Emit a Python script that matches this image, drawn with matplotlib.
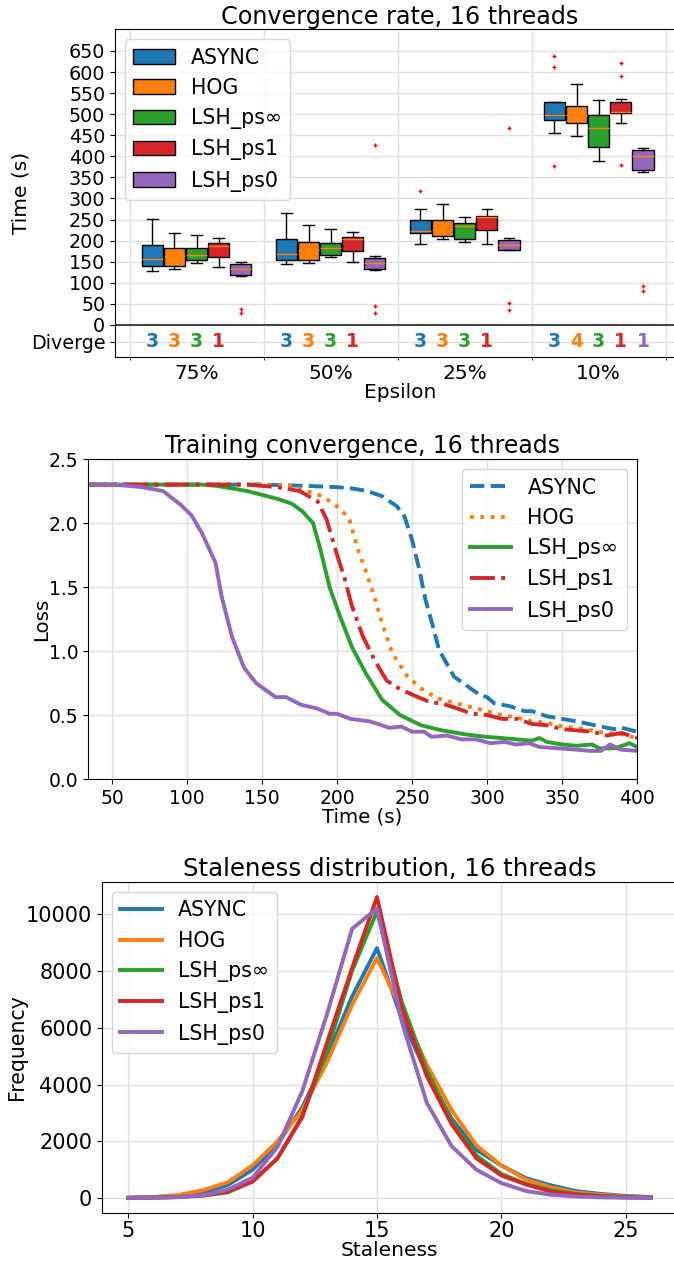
import matplotlib
matplotlib.use("Agg")
import matplotlib.pyplot as plt
from matplotlib.patches import Patch

plt.rcParams['font.family'] = ['DejaVu Sans']

# ---------------- data ----------------
methods = ["ASYNC", "HOG", "LSH_ps\u221e", "LSH_ps1", "LSH_ps0"]
colors = ["#1f77b4", "#ff7f0e", "#2ca02c", "#d62728", "#9467bd"]
epsilons = ["75%", "50%", "25%", "10%"]

# box statistics [method][epsilon]
box_med = [[156, 169, 224, 497],
           [163, 177, 228, 498],
           [167, 182, 234, 466],
           [188, 203, 257, 506],
           [132, 147, 190, 401]]
box_q1 = [[140, 154, 219, 485],
          [140, 154, 212, 479],
          [154, 165, 205, 423],
          [161, 175, 225, 502],
          [118, 132, 177, 367]]
box_q3 = [[190, 205, 250, 528],
          [182, 197, 250, 520],
          [182, 194, 241, 497],
          [195, 209, 259, 530],
          [144, 158, 201, 415]]
box_lo = [[128, 144, 191, 456],
          [132, 146, 203, 448],
          [148, 161, 197, 389],
          [137, 150, 193, 478],
          [116, 130, 177, 363]]
box_hi = [[251, 265, 276, 528],
          [219, 238, 288, 572],
          [214, 227, 255, 533],
          [206, 220, 276, 536],
          [149, 163, 207, 419]]
box_fliers = [[[], [], [317], [638, 613, 378]],
              [[], [], [], []],
              [[], [], [], []],
              [[], [], [], [622, 591, 380]],
              [[37, 28], [427, 45, 28], [468, 53, 36], [92, 81]]]
diverge = [[3, 3, 3, 3],
           [3, 3, 3, 4],
           [3, 3, 3, 3],
           [1, 1, 1, 1],
           [None, None, None, 1]]

# training convergence
async_t = [30, 100, 150, 180, 200, 210, 220, 230, 240, 245, 250, 255, 259, 264, 268, 278, 290, 295, 300, 305, 315, 325, 330, 340, 350, 360, 370, 380, 385, 390, 400]
async_loss = [2.3, 2.3, 2.3, 2.29, 2.28, 2.27, 2.25, 2.21, 2.13, 2.05, 1.87, 1.63, 1.40, 1.19, 1.01, 0.80, 0.70, 0.66, 0.64, 0.59, 0.57, 0.53, 0.53, 0.49, 0.47, 0.45, 0.425, 0.40, 0.39, 0.40, 0.37]
hog_t = [30, 150, 170, 180, 190, 200, 208, 214, 219, 225, 230, 237, 247, 257, 267, 280, 290, 300, 310, 320, 330, 340, 350, 360, 370, 380, 390, 400]
hog_loss = [2.3, 2.3, 2.29, 2.25, 2.21, 2.13, 2.04, 1.79, 1.63, 1.42, 1.22, 0.98, 0.80, 0.70, 0.63, 0.59, 0.56, 0.53, 0.50, 0.48, 0.45, 0.44, 0.41, 0.40, 0.38, 0.36, 0.35, 0.32]
ps1_t = [30, 140, 160, 175, 187, 193, 199, 205, 210, 217, 225, 233, 241, 250, 262, 270, 278, 290, 300, 310, 320, 330, 340, 350, 360, 370, 380, 390, 400]
ps1_loss = [2.3, 2.3, 2.28, 2.25, 2.17, 2.03, 1.79, 1.57, 1.35, 1.12, 0.93, 0.77, 0.71, 0.66, 0.60, 0.59, 0.56, 0.51, 0.50, 0.47, 0.47, 0.43, 0.42, 0.39, 0.38, 0.37, 0.34, 0.36, 0.32]
psinf_t = [30, 110, 120, 130, 140, 150, 160, 170, 177, 184, 189, 195, 202, 210, 219, 230, 242, 256, 270, 285, 299, 310, 320, 330, 335, 340, 350, 360, 370, 375, 385, 395, 400]
psinf_loss = [2.3, 2.3, 2.29, 2.27, 2.25, 2.22, 2.19, 2.15, 2.09, 2.0, 1.79, 1.50, 1.27, 1.03, 0.83, 0.62, 0.50, 0.42, 0.38, 0.35, 0.33, 0.32, 0.31, 0.30, 0.32, 0.29, 0.27, 0.26, 0.27, 0.24, 0.24, 0.28, 0.25]
ps0_t = [30, 50, 61, 70, 84, 96, 103, 110, 119, 123, 130, 138, 146, 159, 166, 176, 187, 195, 200, 209, 222, 235, 243, 250, 258, 263, 273, 283, 293, 302, 312, 319, 328, 335, 348, 359, 369, 376, 382, 389, 400]
ps0_loss = [2.3, 2.3, 2.29, 2.28, 2.25, 2.14, 2.06, 1.92, 1.69, 1.43, 1.11, 0.87, 0.75, 0.64, 0.64, 0.58, 0.55, 0.51, 0.51, 0.47, 0.45, 0.40, 0.41, 0.37, 0.37, 0.33, 0.34, 0.31, 0.31, 0.28, 0.29, 0.27, 0.28, 0.25, 0.24, 0.23, 0.22, 0.22, 0.27, 0.23, 0.22]

# staleness distribution
staleness = list(range(5, 27))
freq_async = [20, 30, 80, 200, 460, 1000, 1900, 3200, 5000, 7100, 8800, 6300, 4400, 2800, 1700, 1150, 700, 450, 250, 150, 80, 40]
freq_hog = [20, 40, 110, 280, 560, 1150, 2000, 3100, 4800, 6800, 8450, 6600, 4700, 3100, 1850, 1150, 650, 380, 200, 120, 60, 30]
freq_psinf = [10, 20, 40, 90, 200, 600, 1400, 2900, 5200, 8000, 10100, 6900, 4500, 2700, 1500, 850, 500, 280, 150, 80, 40, 20]
freq_ps1 = [10, 20, 40, 100, 230, 580, 1400, 2860, 5500, 8100, 10600, 6700, 4300, 2600, 1400, 800, 480, 230, 130, 70, 30, 15]
freq_ps0 = [10, 20, 40, 100, 300, 720, 1800, 3770, 6500, 9480, 10200, 6200, 3360, 1830, 1000, 530, 250, 120, 60, 30, 15, 10]

# ---------------- figure ----------------
fig = plt.figure(figsize=(6.74, 12.61), dpi=100)
GRID = dict(color='0.87', linewidth=1.0)

# ---- top: box plot ----
ax1 = fig.add_axes([0.1706, 0.7169, 0.845, 0.2601])
offsets = [-2, -1, 0, 1, 2]
step = 0.165
for m in range(5):
    stats = []
    pos = []
    for g in range(4):
        stats.append(dict(med=box_med[m][g], q1=box_q1[m][g], q3=box_q3[m][g],
                          whislo=box_lo[m][g], whishi=box_hi[m][g],
                          fliers=box_fliers[m][g]))
        pos.append(g + offsets[m] * step)
    ax1.bxp(stats, positions=pos, widths=0.158, patch_artist=True,
            boxprops=dict(facecolor=colors[m], edgecolor='black', linewidth=1.0),
            medianprops=dict(color='#ff7f0e', linewidth=1.0),
            whiskerprops=dict(color='black', linewidth=1.0),
            capprops=dict(color='black', linewidth=1.0),
            flierprops=dict(marker='+', markeredgecolor='red', markersize=3, markeredgewidth=1.0),
            manage_ticks=False, zorder=3)
    for g in range(4):
        d = diverge[m][g]
        if d is not None:
            ax1.text(g + offsets[m] * step, -40, str(d), color=colors[m],
                     fontsize=13.5, fontweight='bold', ha='center', va='center')

ax1.axhline(0, color='0.2', linewidth=1.3, zorder=4)
ax1.set_ylim(-76, 702)
ax1.set_xlim(-0.609, 3.64)
ax1.set_yticks([-40] + list(range(0, 651, 50)))
ax1.set_yticklabels(["Diverge"] + [str(v) for v in range(0, 651, 50)], fontsize=13.8)
ax1.set_xticks(range(4))
ax1.set_xticklabels(epsilons, fontsize=14.5)
ax1.set_xticks([-0.5, 0.5, 1.5, 2.5, 3.5], minor=True)
ax1.tick_params(axis='x', which='major', length=0, pad=5)
ax1.grid(True, axis='y', which='major', **GRID)
ax1.grid(True, axis='x', which='minor', **GRID)
ax1.set_axisbelow(True)
ax1.set_ylabel("Time (s)", fontsize=14.5, labelpad=0)
ax1.set_xlabel("Epsilon", fontsize=14.5, labelpad=0)
ax1.set_title("Convergence rate, 16 threads", fontsize=17.2, pad=3)
handles = [Patch(facecolor=c, edgecolor='black', label=l) for c, l in zip(colors, methods)]
ax1.legend(handles=handles, loc='upper left', fontsize=14.8, framealpha=0.8)

# ---- middle: training convergence ----
ax2 = fig.add_axes([0.1306, 0.3822, 0.8145, 0.2538])
ax2.plot(async_t, async_loss, '--', color=colors[0], lw=2.8, label=methods[0])
ax2.plot(hog_t, hog_loss, ':', color=colors[1], lw=2.8, label=methods[1])
ax2.plot(psinf_t, psinf_loss, '-', color=colors[2], lw=2.8, label=methods[2])
ax2.plot(ps1_t, ps1_loss, '-.', color=colors[3], lw=2.8, label=methods[3])
ax2.plot(ps0_t, ps0_loss, '-', color=colors[4], lw=2.8, label=methods[4])
ax2.set_xlim(34, 400)
ax2.set_ylim(0, 2.5)
ax2.set_xticks(range(50, 401, 50))
ax2.set_yticks([0, 0.5, 1.0, 1.5, 2.0, 2.5])
ax2.tick_params(labelsize=13.5)
ax2.grid(True, **GRID)
ax2.set_xlabel("Time (s)", fontsize=14.2, labelpad=0)
ax2.set_ylabel("Loss", fontsize=14.2, labelpad=-1.5)
ax2.set_title("Training convergence, 16 threads", fontsize=17.0, pad=4)
ax2.legend(loc='upper right', fontsize=14.8, framealpha=0.8)

# ---- bottom: staleness ----
ax3 = fig.add_axes([0.1513, 0.0381, 0.853, 0.2625])
for f, c, l in zip([freq_async, freq_hog, freq_psinf, freq_ps1, freq_ps0], colors, methods):
    ax3.plot(staleness, f, '-', color=c, lw=2.8, label=l)
ax3.set_xticks([5, 10, 15, 20, 25])
ax3.set_yticks([0, 2000, 4000, 6000, 8000, 10000])
ax3.tick_params(labelsize=15)
ax3.tick_params(axis='x', pad=2.5)
ax3.grid(True, **GRID)
ax3.set_xlabel("Staleness", fontsize=14.5, labelpad=0)
ax3.set_ylabel("Frequency", fontsize=14.8, labelpad=-1)
ax3.set_title("Staleness distribution, 16 threads", fontsize=17.6, pad=4)
ax3.legend(loc='upper left', fontsize=14.8, framealpha=0.8)

fig.savefig("out.png", dpi=100)
